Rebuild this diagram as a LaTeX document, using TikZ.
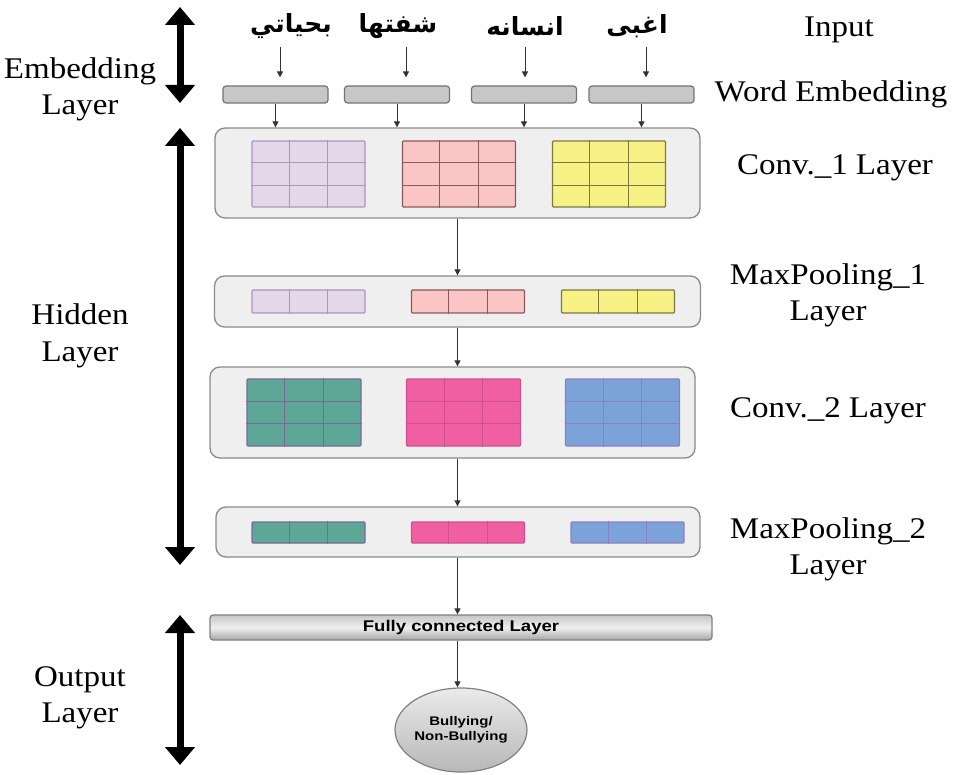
\documentclass[tikz,border=0pt]{standalone}
\usepackage{fontspec}
\setmainfont{Liberation Serif}[FakeStretch=1.1]
\newfontfamily\arabicfont[Script=Arabic]{DejaVu Sans}
\newfontfamily\headsans{Liberation Sans}[FakeStretch=1.2]
\TeXXeTstate=1
\usetikzlibrary{arrows.meta,calc,shapes.geometric}
\definecolor{contfill}{HTML}{EFEFEF}
\definecolor{contline}{HTML}{8A8A8A}
\definecolor{pufill}{HTML}{E4D7EA}\definecolor{puline}{HTML}{A898BC}
\definecolor{pkfill}{HTML}{F9C5C5}\definecolor{pkline}{HTML}{8B5A5A}
\definecolor{yefill}{HTML}{F8F185}\definecolor{yeline}{HTML}{7A7A40}
\definecolor{grfill}{HTML}{5DA797}\definecolor{grline}{HTML}{7A6A9A}
\definecolor{mafill}{HTML}{EF5FA1}\definecolor{maline}{HTML}{D0508F}
\definecolor{blfill}{HTML}{7CA3D9}\definecolor{blline}{HTML}{8F7FC0}
\newcommand{\colsplit}[2]{\foreach \f in {0.3333,0.6667}{\draw[#2,line width=1pt] ($(#1.north west)!\f!(#1.north east)$) -- ($(#1.south west)!\f!(#1.south east)$);}}
\newcommand{\rowsplit}[2]{\foreach \f in {0.3333,0.6667}{\draw[#2,line width=1pt] ($(#1.north west)!\f!(#1.south west)$) -- ($(#1.north east)!\f!(#1.south east)$);}}
\begin{document}
\begin{tikzpicture}[x=1pt,y=-1pt,
  lab/.style={font=\fontsize{30}{36}\selectfont, align=center, anchor=base, inner sep=0pt},
  word/.style={font=\arabicfont\bfseries\fontsize{25}{28}\selectfont, inner sep=0pt},
  arr/.style={draw=black!80, line width=0.9pt, -{Triangle[width=6pt,length=6pt]}},
  dbl/.style={line width=7pt, {Triangle[width=29pt,length=18pt]}-{Triangle[width=29pt,length=18pt]}},
  emb/.style={draw=black!55, fill=black!22, line width=1.2pt, rounded corners=3pt, minimum width=105pt, minimum height=17pt, inner sep=0pt},
  cont/.style={draw=contline, fill=contfill, line width=1.3pt, rounded corners=10pt, inner sep=0pt},
  cell/.style={line width=1.2pt, inner sep=0pt, rounded corners=1pt}
]
\useasboundingbox (0,0) rectangle (955,775);

% left layer labels and double arrows (base = last line)
\node[lab] (lemb) at (80,115) {Embedding\\Layer};
\node[lab] (lhid) at (80,361) {Hidden\\Layer};
\node[lab] (lout) at (80,722) {Output\\Layer};
\coordinate (eT) at (180,7);   \coordinate (eB) at (180,103);
\coordinate (hT) at (180,128); \coordinate (hB) at (180,565);
\coordinate (oT) at (180,615); \coordinate (oB) at (180,765);
\draw[dbl] (eT) -- (eB);
\draw[dbl] (hT) -- (hB);
\draw[dbl] (oT) -- (oB);

% right labels
\node[lab] (rin)  at (839,37)  {Input};
\node[lab] (rwe)  at (831,102) {Word Embedding};
\node[lab] (rc1)  at (835,175) {Conv.\_1 Layer};
\node[lab] (rp1)  at (828,321) {MaxPooling\_1\\Layer};
\node[lab] (rc2)  at (828,417) {Conv.\_2 Layer};
\node[lab] (rp2)  at (828,574) {MaxPooling\_2\\Layer};

% input words
\node[word] (w1) at (291,26) {\beginR بحياتي\endR};
\node[word] (w2) at (398,26) {\beginR شفتها\endR};
\node[word] (w3) at (525,26) {\beginR انسانه\endR};
\node[word] (w4) at (637,26) {\beginR اغبى\endR};

% embedding boxes
\node[emb] (e1) at (275.5,94.5) {};
\node[emb] (e2) at (397,94.5) {};
\node[emb] (e3) at (524,94.5) {};
\node[emb] (e4) at (641.5,94.5) {};

% containers
\node[cont, minimum width=485pt, minimum height=90pt] (c1) at (457.5,173) {};
\node[cont, minimum width=486pt, minimum height=51pt] (p1) at (457.5,301.5) {};
\node[cont, minimum width=485pt, minimum height=91pt] (c2) at (452.5,412.5) {};
\node[cont, minimum width=484pt, minimum height=50pt] (p2) at (458,532) {};

% conv 1 grids
\node[cell, draw=puline, fill=pufill, minimum width=113pt, minimum height=66pt] (g11) at (308.5,174) {};
\node[cell, draw=pkline, fill=pkfill, minimum width=113pt, minimum height=66pt] (g12) at (459,174) {};
\node[cell, draw=yeline, fill=yefill, minimum width=113pt, minimum height=66pt] (g13) at (609,174) {};
\colsplit{g11}{puline}\rowsplit{g11}{puline}
\colsplit{g12}{pkline}\rowsplit{g12}{pkline}
\colsplit{g13}{yeline}\rowsplit{g13}{yeline}

% maxpool 1 cells
\node[cell, draw=puline, fill=pufill, minimum width=113pt, minimum height=23pt] (q11) at (308.5,301.5) {};
\node[cell, draw=pkline, fill=pkfill, minimum width=113pt, minimum height=23pt] (q12) at (468,301.5) {};
\node[cell, draw=yeline, fill=yefill, minimum width=113pt, minimum height=23pt] (q13) at (618,301.5) {};
\colsplit{q11}{puline}\colsplit{q12}{pkline}\colsplit{q13}{yeline}

% conv 2 grids
\node[cell, draw=grline, fill=grfill, minimum width=114pt, minimum height=67pt] (g21) at (304,412.5) {};
\node[cell, draw=maline, fill=mafill, minimum width=114pt, minimum height=67pt] (g22) at (463.5,412.5) {};
\node[cell, draw=blline, fill=blfill, minimum width=114pt, minimum height=67pt] (g23) at (622.5,412.5) {};
\colsplit{g21}{grline}\rowsplit{g21}{grline}
\colsplit{g22}{maline}\rowsplit{g22}{maline}
\colsplit{g23}{blline}\rowsplit{g23}{blline}

% maxpool 2 cells
\node[cell, draw=grline, fill=grfill, minimum width=113pt, minimum height=21pt] (q21) at (308.5,532.5) {};
\node[cell, draw=maline, fill=mafill, minimum width=113pt, minimum height=21pt] (q22) at (468,532.5) {};
\node[cell, draw=blline, fill=blfill, minimum width=113pt, minimum height=21pt] (q23) at (627.5,532.5) {};
\colsplit{q21}{grline}\colsplit{q22}{maline}\colsplit{q23}{blline}

% fully connected
\node[draw=black!50, line width=1.2pt, rounded corners=3pt, minimum width=502pt, minimum height=25pt, inner sep=0pt,
      top color=black!22, bottom color=black!35, middle color=black!6,
      font=\headsans\bfseries\fontsize{15.5}{18}\selectfont] (fc) at (461,627.5) {Fully connected Layer};

% output
\node[ellipse, draw=black!50, line width=1.2pt, minimum width=92pt, minimum height=84pt, inner sep=0pt,
      top color=black!8, bottom color=black!28, align=center,
      font=\headsans\bfseries\fontsize{12.5}{15}\selectfont] (out) at (461,730) {Bullying/\\Non-Bullying};

% arrows
\coordinate (a1) at (280,47); \coordinate (a2) at (406,47);
\coordinate (a3) at (525,47); \coordinate (a4) at (646,47);
\draw[arr, shorten >=8pt] (a1) -- (a1 |- e1.north);
\draw[arr, shorten >=8pt] (a2) -- (a2 |- e2.north);
\draw[arr, shorten >=8pt] (a3) -- (a3 |- e3.north);
\draw[arr, shorten >=8pt] (a4) -- (a4 |- e4.north);
\draw[arr] (e1.south) -- (e1.south |- c1.north);
\draw[arr] (e2.south) -- (e2.south |- c1.north);
\draw[arr] (e3.south) -- (e3.south |- c1.north);
\draw[arr] (e4.south) -- (e4.south |- c1.north);
\draw[arr] (c1.south) -- (p1.north);
\draw[arr] (p1.south) -- (p1.south |- c2.north);
\draw[arr] (p1.south |- c2.south) -- (p1.south |- p2.north);
\draw[arr] (p1.south |- p2.south) -- (p1.south |- fc.north);
\draw[arr] (p1.south |- fc.south) -- (p1.south |- out.north);
\end{tikzpicture}
\end{document}
